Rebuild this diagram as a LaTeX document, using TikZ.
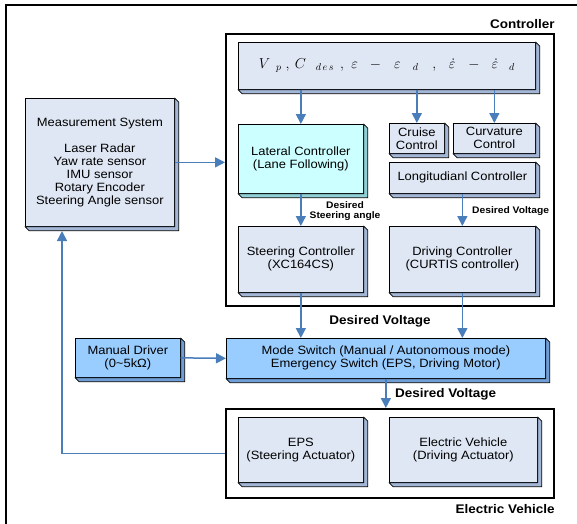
\documentclass[tikz,border=0pt]{standalone}
\usepackage{amsmath,amssymb}
\usepackage{xcolor}
\usepackage{fontspec}
\setmainfont{Liberation Sans}[FakeStretch=1.08]
\usepackage{tikz}
\usetikzlibrary{positioning,calc,arrows.meta}

\definecolor{facegray}{HTML}{DFE7F4}
\definecolor{sidegray}{HTML}{A3B6D6}
\definecolor{facecyan}{HTML}{CCFFFF}
\definecolor{sidecyan}{HTML}{8FCFD6}
\definecolor{faceblue}{HTML}{99CCFF}
\definecolor{sideblue}{HTML}{6F9ED6}
\definecolor{arrowblue}{HTML}{4A7EBB}

\begin{document}
\begin{tikzpicture}[x=1pt,y=-1pt,
    block/.style={draw=black, line width=0.7pt, fill=#1, anchor=north west,
        inner sep=0pt, align=center, font=\fontsize{12}{13}\selectfont},
    side/.style={fill=#1, draw=black, line width=0.7pt, line join=round},
    group/.style={draw=black, line width=1.8pt, anchor=north west, inner sep=0pt},
    flow/.style={draw=arrowblue, line width=1.5pt, -{Triangle[length=10pt,width=10pt]}},
    note/.style={font=\bfseries\fontsize{9.5}{10.5}\selectfont, align=center, inner sep=0pt},
    tag/.style={font=\bfseries\fontsize{12.5}{14}\selectfont, inner sep=0pt}]
    \useasboundingbox (0,0) rectangle (577,523);

    % Outer frame
    \draw[line width=2pt] (6,540) -- (6,5) -- (590,5);

    % Containers
    \node[group, minimum width=328, minimum height=272] (ctrl) at (225,33) {};
    \node[tag, anchor=south east] (ctrltag) at ([yshift=4pt]ctrl.north east) {Controller};
    \node[group, minimum width=328, minimum height=89] (evbox) at (225,408) {};
    \node[tag, anchor=north east] (evtag) at ([yshift=-5pt]evbox.south east) {Electric Vehicle};

    % Controller blocks
    \node[block=facegray, minimum width=297, minimum height=47] (vars) at (238,42)
        {\raisebox{-4pt}{\fontsize{14}{16}\selectfont
        $V_{\hspace{9pt}p}\hspace{4pt},\hspace{3pt}C_{\hspace{11pt}d\hspace{1.5pt}e\hspace{1.5pt}s}\hspace{6pt},\hspace{5pt}\varepsilon\hspace{12pt}{-}\hspace{13pt}\varepsilon_{\hspace{12pt}d}\hspace{14pt},\hspace{10pt}\dot{\varepsilon}\hspace{13pt}{-}\hspace{12pt}\dot{\varepsilon}_{\hspace{11pt}d}$}};
    \node[block=facecyan, minimum width=125, minimum height=69] (lat) at (238,124)
        {Lateral Controller\\(Lane Following)};
    \node[block=facegray, minimum width=55, minimum height=30] (cruise) at (389,123)
        {Cruise\\Control};
    \node[block=facegray, minimum width=82, minimum height=30] (curv) at (453,123)
        {Curvature\\Control};
    \node[block=facegray, minimum width=146, minimum height=31] (longi) at (389,162)
        {Longitudianl Controller};
    \node[block=facegray, minimum width=125, minimum height=66] (steer) at (238,226)
        {Steering Controller\\(XC164CS)};
    \node[block=facegray, minimum width=146, minimum height=66] (drive) at (389,226)
        {Driving Controller\\(CURTIS controller)};

    % Outside blocks
    \node[block=facegray, minimum width=149, minimum height=128] (meas) at (25,98)
        {Measurement System\\[13pt]Laser Radar\\Yaw rate sensor\\IMU sensor\\Rotary Encoder\\Steering Angle sensor};
    \node[block=faceblue, minimum width=105, minimum height=39] (manual) at (75,338)
        {Manual Driver\\(0\textasciitilde5kΩ)};
    \node[block=faceblue, minimum width=319, minimum height=40] (mode) at (226,338)
        {Mode Switch (Manual / Autonomous mode)\\Emergency Switch (EPS, Driving Motor)};

    % Vehicle blocks
    \node[block=facegray, minimum width=125, minimum height=65] (eps) at (238,417)
        {EPS\\(Steering Actuator)};
    \node[block=facegray, minimum width=148, minimum height=65] (motor) at (389,417)
        {Electric Vehicle\\(Driving Actuator)};

    % 3D sides
    \foreach \n/\c in {vars/sidegray, lat/sidecyan, cruise/sidegray, curv/sidegray,
        longi/sidegray, steer/sidegray, drive/sidegray, meas/sidegray,
        manual/sideblue, mode/sideblue, eps/sidegray, motor/sidegray}
        \filldraw[side=\c] (\n.north east) -- ++(4pt,-4pt)
            -- ([shift={(4pt,-4pt)}]\n.south east) -- ([shift={(4pt,-4pt)}]\n.south west)
            -- (\n.south west) -- (\n.south east) -- cycle;

    % Signal flow
    \draw[flow] (vars.south -| lat.north) -- (lat.north);
    \draw[flow] (vars.south -| cruise.north) -- (cruise.north);
    \draw[flow] (vars.south -| curv.north) -- (curv.north);
    \draw[flow] (lat.south) -- (steer.north);
    \draw[flow] (longi.south) -- (drive.north);
    \draw[flow] (steer.south) -- (steer.south |- mode.north);
    \draw[flow] (drive.south) -- (drive.south |- mode.north);
    \draw[flow] (manual.east) -- (mode.west);
    \draw[flow] (mode.south) -- (mode.south |- evbox.north);
    \draw[flow] (meas.east) -- (meas.east -| ctrl.west);
    \coordinate (fb) at (62,231);
    \draw[flow] (evbox.west) -| (fb);

    % Labels
    \node[note] (angletag) at (345,211) {Desired\\Steering angle};
    \node[note, anchor=west] (volttag) at (472,211) {Desired Voltage};
    \node[tag] (midtag) at (380,321) {Desired Voltage};
    \node[tag, anchor=west] (lowtag) at (395,394) {Desired Voltage};
\end{tikzpicture}
\end{document}
